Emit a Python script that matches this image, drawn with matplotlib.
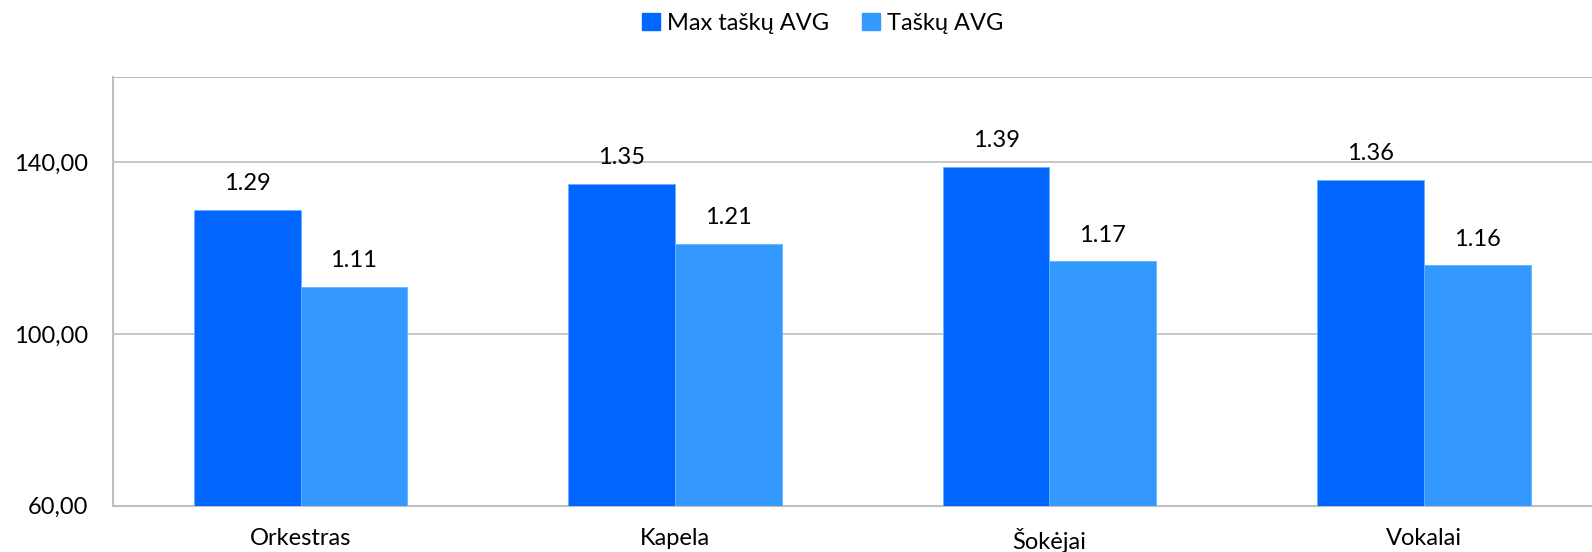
import numpy as np
import matplotlib.pyplot as plt
from matplotlib.patches import Patch

categories = ["Orkestras", "Kapela", "Šokėjai", "Vokalai"]
max_avg = [1.29, 1.35, 1.39, 1.36]
tasku_avg = [1.11, 1.21, 1.17, 1.16]
series_names = ["Max taškų AVG", "Taškų AVG"]
yticks = [60, 100, 140]

plt.rcParams['font.family'] = ['Lato', 'DejaVu Sans']

fig = plt.figure(figsize=(15.92, 5.52), dpi=100)
ax = fig.add_axes([0.0712, 0.0839, 0.9408, 0.7775])

x = np.arange(len(categories))
w = 0.285
colors = ["#0066FF", "#3399FF"]
for i, vals in enumerate([max_avg, tasku_avg]):
    h = np.array(vals) * 100
    pos = x + (i - 0.5) * w
    ax.bar(pos, h, w, color=colors[i], edgecolor="#66B2FF", linewidth=0.6, zorder=3)
    for px, hv, v in zip(pos, h, vals):
        ax.text(px, hv + 3.6, f"{v:.2f}", ha="center", va="bottom", fontsize=17)

ax.set_xlim(-0.5, 3.5)
ax.set_ylim(60, 160)
ax.set_yticks(yticks)
ax.set_yticklabels([f"{t:.2f}".replace(".", ",") for t in yticks], fontsize=17)
ax.set_xticks(x)
ax.set_xticklabels(categories, fontsize=17)
ax.tick_params(length=0)
ax.tick_params(axis="y", pad=18)
ax.tick_params(axis="x", pad=16)
ax.grid(axis="y", color="#BFBFBF", linewidth=1.2, zorder=0)
ax.axhline(160, color="#BFBFBF", linewidth=1.5, zorder=0)
for s in ["top", "right"]:
    ax.spines[s].set_visible(False)
for s in ["left", "bottom"]:
    ax.spines[s].set_color("#BFBFBF")
    ax.spines[s].set_linewidth(1.5)

handles = [Patch(color=c) for c in colors]
fig.legend(handles, series_names, loc="center", bbox_to_anchor=(0.517, 0.958), ncol=2,
           frameon=False, fontsize=17, handlelength=0.75, handleheight=0.75,
           handletextpad=0.3, columnspacing=1.4)

fig.savefig("out.png", dpi=100)
